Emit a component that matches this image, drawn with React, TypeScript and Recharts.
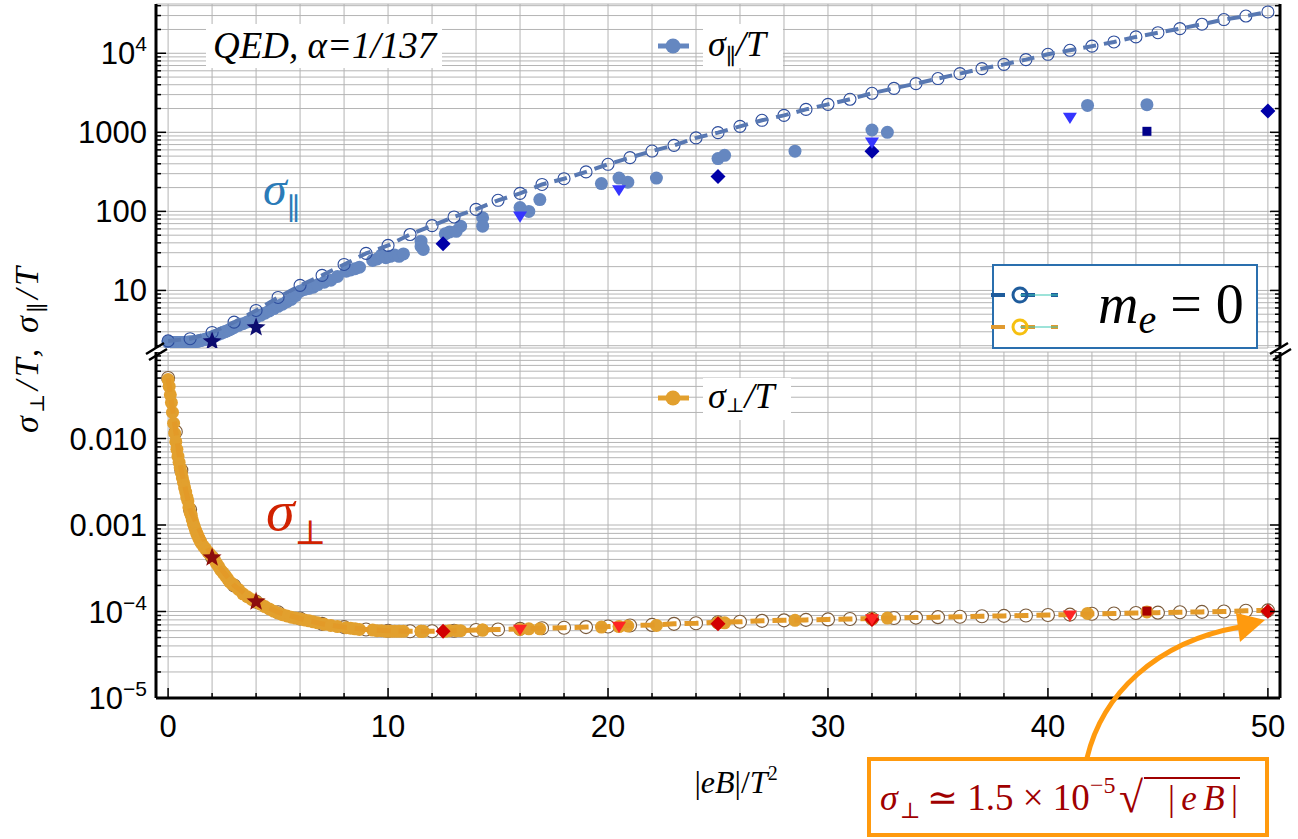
import React from "react";
import {
  ScatterChart,
  Scatter,
  XAxis,
  YAxis,
  CartesianGrid,
  ReferenceLine,
} from "recharts";

// m_e = 0 curves (open circles + dashed line)
const curveX = [
  0, 1, 2, 3, 4, 5, 6, 7, 8, 9, 10, 11, 12, 13, 14, 15, 16, 17, 18, 19, 20, 21,
  22, 23, 24, 25, 26, 27, 28, 29, 30, 31, 32, 33, 34, 35, 36, 37, 38, 39, 40,
  41, 42, 43, 44, 45, 46, 47, 48, 49, 50,
];
const curvePar = [
  2.3, 2.45, 2.94, 3.97, 5.58, 8.15, 11.6, 15.5, 21.3, 29.4, 37.1, 51, 66, 85,
  106, 138, 169, 219, 259, 316, 394, 479, 580, 684, 850, 991, 1190, 1420, 1640,
  1950, 2260, 2620, 3120, 3600, 4130, 4790, 5530, 6400, 7240, 8320, 9710,
  10900, 12300, 13900, 16100, 18200, 20500, 23300, 26700, 29600, 33300,
];
const curvePerpX = [
  0, 0.35, 0.6, 1, 2, 3, 4, 5, 6, 7, 8, 9, 10, 11, 12, 13, 14, 15, 16, 17, 18,
  19, 20, 21, 22, 23, 24, 25, 26, 27, 28, 29, 30, 31, 32, 33, 34, 35, 36, 37,
  38, 39, 40, 41, 42, 43, 44, 45, 46, 47, 48, 49, 50,
];
const curvePerp = [
  0.05, 0.012, 0.0043, 0.0015, 4.2e-4, 2.0e-4, 1.3e-4, 9.8e-5, 8.3e-5, 7.2e-5,
  6.6e-5, 6.2e-5, 6.0e-5, 5.9e-5, 5.9e-5, 6.0e-5, 6.1e-5, 6.2e-5, 6.3e-5,
  6.4e-5, 6.5e-5, 6.6e-5, 6.7e-5, 6.9e-5, 7.0e-5, 7.2e-5, 7.3e-5, 7.5e-5,
  7.6e-5, 7.8e-5, 7.9e-5, 8.0e-5, 8.1e-5, 8.2e-5, 8.3e-5, 8.4e-5, 8.5e-5,
  8.6e-5, 8.7e-5, 8.8e-5, 8.9e-5, 9.0e-5, 9.1e-5, 9.2e-5, 9.4e-5, 9.5e-5,
  9.6e-5, 9.7e-5, 9.8e-5, 9.9e-5, 1.0e-4, 1.02e-4, 1.03e-4,
];

// lattice points (filled dots), same |eB| for both conductivities
const latX = [
  0, 0.05, 0.1, 0.15, 0.2, 0.25, 0.3, 0.35, 0.4, 0.45, 0.5, 0.55, 0.6, 0.65,
  0.7, 0.75, 0.8, 0.85, 0.9, 0.95, 1.0, 1.05, 1.1, 1.15, 1.2, 1.25, 1.3, 1.35,
  1.4, 1.45, 1.5,
  1.6, 1.7, 1.8, 1.9, 2.0, 2.1, 2.2, 2.3, 2.4, 2.5, 2.6, 2.7, 2.8, 2.9, 3.0,
  3.2, 3.4, 3.6, 3.8, 4.0, 4.2, 4.4, 4.6, 4.8, 5.0, 5.2, 5.4, 5.6,
  5.8, 6.0, 6.2, 6.4, 6.6, 6.8, 7.1, 7.4, 7.7,
  8.1, 8.3, 8.5, 8.7, 9.3, 9.5, 9.7, 9.9, 10.1, 10.3, 10.5, 10.7, 11.5, 11.5,
  11.6, 12.6, 12.8, 13.1, 13.3, 14.3, 14.3, 16.0, 16.4, 16.9, 19.7, 20.5, 20.9,
  22.2, 25.0, 25.3, 28.5, 32.0, 32.7, 41.8, 44.5,
];
const latPar = [
  2.22, 2.21, 2.2, 2.2, 2.2, 2.19, 2.19, 2.19, 2.19, 2.19, 2.19, 2.19, 2.19,
  2.19, 2.2, 2.2, 2.2, 2.21, 2.21, 2.22, 2.22, 2.22, 2.23, 2.24, 2.25, 2.26,
  2.27, 2.28, 2.3, 2.31, 2.33,
  2.37, 2.42, 2.47, 2.52, 2.58, 2.65, 2.72, 2.8, 2.87, 2.95, 3.02, 3.1, 3.2,
  3.3, 3.4,
  3.6, 3.8, 4.0, 4.3, 4.55, 4.85, 5.15, 5.5, 5.9, 6.3, 6.7, 7.2, 7.7,
  8.6, 9.8, 10.3, 10.6, 11.0, 11.8, 12.7, 13.5, 15.0,
  17.5, 18.2, 18.8, 19.7, 24, 25, 28, 26, 27, 28, 27, 29, 42, 36, 33, 52, 55,
  56, 65, 83, 65, 112, 100, 141, 225, 264, 234, 264, 466, 512, 577, 1070, 1000,
  2190, 2240,
];
const latPerp = [
  0.048, 0.04, 0.032, 0.026, 0.02, 0.015, 0.0115, 0.0092, 0.0075, 0.0062,
  0.0053, 0.0046, 0.004, 0.0035, 0.0031, 0.0027, 0.0024, 0.0021, 0.0019,
  0.0016, 0.0014, 0.0013, 0.00115, 0.00103, 0.00095, 0.00087, 0.0008, 0.00075,
  0.0007, 0.00066, 0.00062,
  0.00057, 0.00053, 0.00049, 0.00046, 0.00043, 0.0004, 0.00036, 0.00033,
  0.0003, 0.00028, 0.00026, 0.00024, 0.00022, 0.00021, 0.0002,
  0.00018, 0.00016, 0.000148, 0.000138, 0.00013, 0.000122, 0.000114, 0.000107,
  0.000101, 9.6e-5, 9.2e-5, 8.9e-5, 8.6e-5,
  8.4e-5, 8.2e-5, 8.0e-5, 7.8e-5, 7.6e-5, 7.4e-5, 7.1e-5, 6.9e-5, 6.7e-5,
  6.5e-5, 6.4e-5, 6.3e-5, 6.2e-5, 6.1e-5, 6.0e-5, 6.0e-5, 5.9e-5, 5.9e-5,
  5.9e-5, 5.9e-5, 5.9e-5, 5.9e-5, 5.9e-5, 5.9e-5, 5.9e-5, 6.0e-5, 6.0e-5,
  6.0e-5, 6.1e-5, 6.1e-5, 6.2e-5, 6.3e-5, 6.3e-5, 6.6e-5, 6.7e-5, 6.8e-5,
  6.9e-5, 7.4e-5, 7.4e-5, 7.9e-5, 8.2e-5, 8.4e-5, 9.5e-5, 9.9e-5,
];

// other ensembles
const starX = [2, 4];
const starPar = [2.26, 3.4];
const starPerp = [4.2e-4, 1.3e-4];
const diamondX = [12.5, 25, 32, 50];
const diamondPar = [39, 276, 575, 1860];
const diamondPerp = [5.9e-5, 7.2e-5, 8.1e-5, 1.01e-4];
const triX = [16, 20.5, 32, 41];
const triPar = [88, 190, 760, 1560];
const triPerp = [6.3e-5, 6.8e-5, 8.3e-5, 9.2e-5];
const squareX = [44.5];
const squarePar = [1030];
const squarePerp = [1.01e-4];

const xTicks = [
  0, 2, 4, 6, 8, 10, 12, 14, 16, 18, 20, 22, 24, 26, 28, 30, 32, 34, 36, 38, 40,
  42, 44, 46, 48, 50,
];
const upperLabels: [number, string, string?][] = [
  [10, "10"],
  [100, "100"],
  [1000, "1000"],
  [10000, "10", "4"],
];
const lowerLabels: [number, string, string?][] = [
  [0.01, "0.010"],
  [0.001, "0.001"],
  [1e-4, "10", "\u22124"],
  [1e-5, "10", "\u22125"],
];

const sansFont = "'Liberation Sans', Arial, sans-serif";
const serifFont = "'Liberation Serif', 'DejaVu Serif', serif";
const sans = { fontFamily: sansFont };
const serif = { fontFamily: serifFont };

const PLOT_R = 1280;
const X_DOMAIN: [number, number] = [-0.55, 50.55];
const UPPER_DOMAIN: [number, number] = [1.87, 42000];
const LOWER_DOMAIN: [number, number] = [1e-5, 0.1];

const logTicks = (e0: number, e1: number, lo: number, hi: number) => {
  const out: number[] = [];
  for (let e = e0; e <= e1; e++)
    for (let m = 1; m <= 9; m++) {
      const v = Number((m * Math.pow(10, e)).toPrecision(3));
      if (v >= lo && v <= hi) out.push(v);
    }
  return out;
};
const upperTicks = logTicks(0, 4, 2, 40000);
const lowerTicks = logTicks(-5, -1, 1e-5, 0.1);

const pts = (xs: number[], ys: number[]) => xs.map((x, i) => ({ x, y: ys[i] }));

const PAR_BLUE = "#6587c0";
const PERP_ORANGE = "#e2a02e";

const dotShape = (fill: string, r: number) => (p: any) =>
  <circle cx={p.cx} cy={p.cy} r={r} fill={fill} />;
const ringShape = (stroke: string, r: number, fill = "none") => (p: any) =>
  <circle cx={p.cx} cy={p.cy} r={r} fill={fill} stroke={stroke} strokeWidth={1.1} />;
const starShape = (fill: string, R: number) => (p: any) => {
  const d: string[] = [];
  for (let i = 0; i < 10; i++) {
    const a = -Math.PI / 2 + (i * Math.PI) / 5;
    const rr = i % 2 === 0 ? R : R * 0.42;
    d.push(`${p.cx + rr * Math.cos(a)},${p.cy + rr * Math.sin(a)}`);
  }
  return <polygon points={d.join(" ")} fill={fill} />;
};
const diamondShape = (fill: string, h: number) => (p: any) =>
  <path d={`M${p.cx},${p.cy - h}L${p.cx + h},${p.cy}L${p.cx},${p.cy + h}L${p.cx - h},${p.cy}Z`} fill={fill} />;
const triShape = (fill: string, s: number) => (p: any) =>
  <path d={`M${p.cx - s},${p.cy - s * 0.6}L${p.cx + s},${p.cy - s * 0.6}L${p.cx},${p.cy + s}Z`} fill={fill} />;
const squareShape = (fill: string, s: number) => (p: any) =>
  <rect x={p.cx - s} y={p.cy - s} width={2 * s} height={2 * s} fill={fill} />;
const noShape = () => <g />;

function yTick(labels: [number, string, string?][]) {
  return (p: any) => {
    const v = p.payload.value;
    const lab = labels.find((l) => Math.abs(Math.log10(v) - Math.log10(l[0])) < 1e-6);
    const len = lab ? 10 : 5;
    return (
      <g>
        <line x1={p.x} x2={p.x + len} y1={p.y} y2={p.y} stroke="#000" strokeWidth={1.5} />
        <line x1={PLOT_R} x2={PLOT_R - len} y1={p.y} y2={p.y} stroke="#000" strokeWidth={1.5} />
        {lab && (
          <text x={p.x - 9} y={p.y + 11} textAnchor="end" style={sans} fontSize={31} fill="#000">
            {lab[1]}
            {lab[2] && (
              <tspan dy={-13} fontSize={21}>
                {lab[2]}
              </tspan>
            )}
          </text>
        )}
      </g>
    );
  };
}

const topTick = (p: any) => {
  const major = p.payload.value % 10 === 0;
  return <line x1={p.x} x2={p.x} y1={p.y} y2={p.y + (major ? 9 : 5)} stroke="#000" strokeWidth={1.5} />;
};
const bottomTick = (p: any) => {
  const v = p.payload.value;
  const major = v % 10 === 0;
  return (
    <g>
      <line x1={p.x} x2={p.x} y1={p.y} y2={p.y - (major ? 10 : 5)} stroke="#000" strokeWidth={1.5} />
      {major && (
        <text x={p.x} y={p.y + 39} textAnchor="middle" style={sans} fontSize={31} fill="#000">
          {v}
        </text>
      )}
    </g>
  );
};

export default function App() {
  return (
    <div style={{ position: "absolute", left: 0, top: 0, width: 1298, height: 839, background: "#fff" }}>
      <div style={{ position: "absolute", left: 0, top: 0 }}>
        <ScatterChart width={1298} height={352} margin={{ top: 4, right: 18, bottom: 4, left: 0 }}>
          <CartesianGrid stroke="#b4b4b4" strokeWidth={1} />
          <XAxis
            type="number"
            dataKey="x"
            orientation="top"
            height={0}
            domain={X_DOMAIN}
            allowDataOverflow
            ticks={xTicks}
            tick={topTick}
            tickSize={0}
            tickMargin={0}
            tickLine={false}
            axisLine={{ stroke: "#000", strokeWidth: 3 }}
          />
          <YAxis
            type="number"
            dataKey="y"
            scale="log"
            width={156}
            domain={UPPER_DOMAIN}
            allowDataOverflow
            ticks={upperTicks}
            tick={yTick(upperLabels)}
            tickSize={0}
            tickMargin={0}
            tickLine={false}
            interval={0}
            axisLine={{ stroke: "#000", strokeWidth: 3 }}
          />
          <ReferenceLine x={X_DOMAIN[1]} stroke="#000" strokeWidth={3} />
          <Scatter data={pts(latX, latPar)} shape={dotShape(PAR_BLUE, 6.5)} isAnimationActive={false} />
          <Scatter data={pts(curveX, curvePar)} shape={ringShape("#2c4c9c", 6)} isAnimationActive={false} />
          <Scatter
            data={pts(curveX, curvePar)}
            shape={noShape}
            line={{ stroke: "#5878b2", strokeWidth: 4, strokeDasharray: "13 8" }}
            isAnimationActive={false}
          />
          <Scatter data={pts(starX, starPar)} shape={starShape("#0c0c70", 10)} isAnimationActive={false} />
          <Scatter data={pts(diamondX, diamondPar)} shape={diamondShape("#0000a8", 7.5)} isAnimationActive={false} />
          <Scatter data={pts(triX, triPar)} shape={triShape("#3535ff", 7)} isAnimationActive={false} />
          <Scatter data={pts(squareX, squarePar)} shape={squareShape("#00008a", 4.5)} isAnimationActive={false} />
        </ScatterChart>
      </div>
      <div style={{ position: "absolute", left: 0, top: 340 }}>
        <ScatterChart width={1298} height={460} margin={{ top: 12, right: 18, bottom: 0, left: 0 }}>
          <CartesianGrid stroke="#b4b4b4" strokeWidth={1} />
          <XAxis
            type="number"
            dataKey="x"
            height={102}
            domain={X_DOMAIN}
            allowDataOverflow
            ticks={xTicks}
            tick={bottomTick}
            tickSize={0}
            tickMargin={0}
            tickLine={false}
            interval={0}
            axisLine={{ stroke: "#000", strokeWidth: 3 }}
          />
          <YAxis
            type="number"
            dataKey="y"
            scale="log"
            width={156}
            domain={LOWER_DOMAIN}
            allowDataOverflow
            ticks={lowerTicks}
            tick={yTick(lowerLabels)}
            tickSize={0}
            tickMargin={0}
            tickLine={false}
            interval={0}
            axisLine={{ stroke: "#000", strokeWidth: 3 }}
          />
          <ReferenceLine x={X_DOMAIN[1]} stroke="#000" strokeWidth={3} />
          <Scatter data={pts(curvePerpX, curvePerp)} shape={ringShape("#7a5a3a", 6.5, "#fff")} isAnimationActive={false} />
          <Scatter data={pts(latX, latPerp)} shape={dotShape(PERP_ORANGE, 6.5)} isAnimationActive={false} />
          <Scatter
            data={pts(curvePerpX, curvePerp)}
            shape={noShape}
            line={{ stroke: "#e39a28", strokeWidth: 5, strokeDasharray: "14 8" }}
            isAnimationActive={false}
          />
          <Scatter data={pts(starX, starPerp)} shape={starShape("#8c0c0c", 10)} isAnimationActive={false} />
          <Scatter data={pts(diamondX, diamondPerp)} shape={diamondShape("#d20000", 7.5)} isAnimationActive={false} />
          <Scatter data={pts(triX, triPerp)} shape={triShape("#ff2424", 7)} isAnimationActive={false} />
          <Scatter data={pts(squareX, squarePerp)} shape={squareShape("#a80000", 4.5)} isAnimationActive={false} />
        </ScatterChart>
      </div>

      <svg width={1298} height={839} style={{ position: "absolute", left: 0, top: 0, pointerEvents: "none", fontFamily: serifFont }}>
        {/* axis break marks */}
        <rect x={140} y={348} width={30} height={4} fill="#fff" />
        <line x1={146} y1={354} x2={164} y2={343} stroke="#000" strokeWidth={2.5} />
        <line x1={149} y1={360} x2={167} y2={349} stroke="#000" strokeWidth={2.5} />
        <rect x={1268} y={348} width={30} height={4} fill="#fff" />
        <line x1={1270} y1={354} x2={1288} y2={343} stroke="#000" strokeWidth={2.5} />
        <line x1={1273} y1={360} x2={1291} y2={349} stroke="#000" strokeWidth={2.5} />

        {/* title */}
        <rect x={206} y={24} width={236} height={44} fill="#fff" />
        <text x={213} y={58} style={serif} fontStyle="italic" fontSize={37} fill="#000">
          QED, α=1/137
        </text>

        {/* sigma_par legend */}
        <line x1={658} y1={46} x2={689} y2={46} stroke={PAR_BLUE} strokeWidth={5} />
        <circle cx={673} cy={46} r={7.5} fill={PAR_BLUE} />
        <rect x={703} y={24} width={80} height={44} fill="#fff" />
        <text x={708} y={56} style={serif} fontSize={36} fill="#000">
          <tspan fontStyle="italic">σ</tspan>
          <tspan fontSize={22} dy={8}>∥</tspan>
          <tspan dy={-8} fontStyle="italic">/T</tspan>
        </text>

        {/* sigma_perp legend */}
        <line x1={658} y1={398} x2={689} y2={398} stroke={PERP_ORANGE} strokeWidth={5} />
        <circle cx={673} cy={398} r={7.5} fill={PERP_ORANGE} />
        <rect x={703} y={378} width={88} height={42} fill="#fff" />
        <text x={708} y={408} style={serif} fontSize={36} fill="#000">
          <tspan fontStyle="italic">σ</tspan>
          <tspan fontSize={20} dy={4}>⊥</tspan>
          <tspan dy={-4} fontStyle="italic">/T</tspan>
        </text>

        {/* curve labels */}
        <text x={263} y={205} style={serif} fontSize={48} fill="#2a7bb8">
          <tspan fontStyle="italic">σ</tspan>
          <tspan fontSize={30} dy={14}>∥</tspan>
        </text>
        <text x={266} y={530} style={serif} fontSize={58} fill="#d02200">
          <tspan fontStyle="italic">σ</tspan>
          <tspan fontSize={34} dy={14}>⊥</tspan>
        </text>

        {/* m_e = 0 legend */}
        <rect x={993} y={265} width={264} height={83} fill="#fff" stroke="#2a6fae" strokeWidth={2} />
        <line x1={991} y1={295} x2={1058} y2={295} stroke="#1f5c9c" strokeWidth={4} strokeDasharray="14 16" />
        <line x1={1020} y1={295} x2={1058} y2={295} stroke="#3cc8b4" strokeWidth={1.2} />
        <circle cx={1020} cy={295} r={7} fill="none" stroke="#1f5c9c" strokeWidth={3} />
        <line x1={991} y1={327} x2={1058} y2={327} stroke="#e09a30" strokeWidth={4} strokeDasharray="14 16" />
        <line x1={1020} y1={327} x2={1058} y2={327} stroke="#3cc8b4" strokeWidth={1.2} />
        <circle cx={1020} cy={327} r={7} fill="none" stroke="#f6c010" strokeWidth={3} />
        <text x={1098} y={323} style={serif} fontSize={56} fill="#000">
          <tspan fontStyle="italic">m</tspan>
          <tspan fontStyle="italic" fontSize={40} dy={10}>e</tspan>
          <tspan dy={-10}> = 0</tspan>
        </text>

        {/* axis titles */}
        <text
          transform="translate(38,350) rotate(-90)"
          x={-83}
          textLength={166}
          lengthAdjust="spacing"
          style={serif}
          fontSize={34}
          fill="#000"
        >
          <tspan fontStyle="italic">σ</tspan>
          <tspan fontSize={20} dy={6}>⊥</tspan>
          <tspan dy={-6} fontStyle="italic">/T, σ</tspan>
          <tspan fontSize={22} dy={7}>∥</tspan>
          <tspan dy={-7} fontStyle="italic">/T</tspan>
        </text>
        <text x={736} y={793} textAnchor="middle" style={serif} fontSize={32} fill="#000">
          <tspan>|</tspan>
          <tspan fontStyle="italic">eB</tspan>
          <tspan>|/</tspan>
          <tspan fontStyle="italic">T</tspan>
          <tspan fontSize={20} dy={-13}>2</tspan>
        </text>

        {/* annotation */}
        <path d="M1087,758 C1102,695 1155,642 1240,627" fill="none" stroke="#ff9a0e" strokeWidth={5} />
        <polygon points="1265,620 1236,613 1240,642" fill="#ff9a0e" />
        <rect x={869} y={759} width={398} height={76} fill="#fff" stroke="#ff9a0e" strokeWidth={4} />
        <g style={serif} fill="#a00000">
          <text x={880} y={810} fontSize={36} fontStyle="italic">σ</text>
          <text x={900} y={818} fontSize={22}>⊥</text>
          <text x={927} y={810} fontSize={37}>
            ≃ 1.5 × 10
            <tspan dy={-17} fontSize={24}>−5</tspan>
          </text>
          <text x={1119} y={812} fontSize={44}>√</text>
          <line x1={1144} y1={778} x2={1240} y2={778} stroke="#a00000" strokeWidth={2} />
          <text x={1168} y={810} fontSize={35} textLength={70} lengthAdjust="spacing">
            <tspan>|</tspan>
            <tspan fontStyle="italic">eB</tspan>
            <tspan>|</tspan>
          </text>
        </g>
      </svg>
    </div>
  );
}
